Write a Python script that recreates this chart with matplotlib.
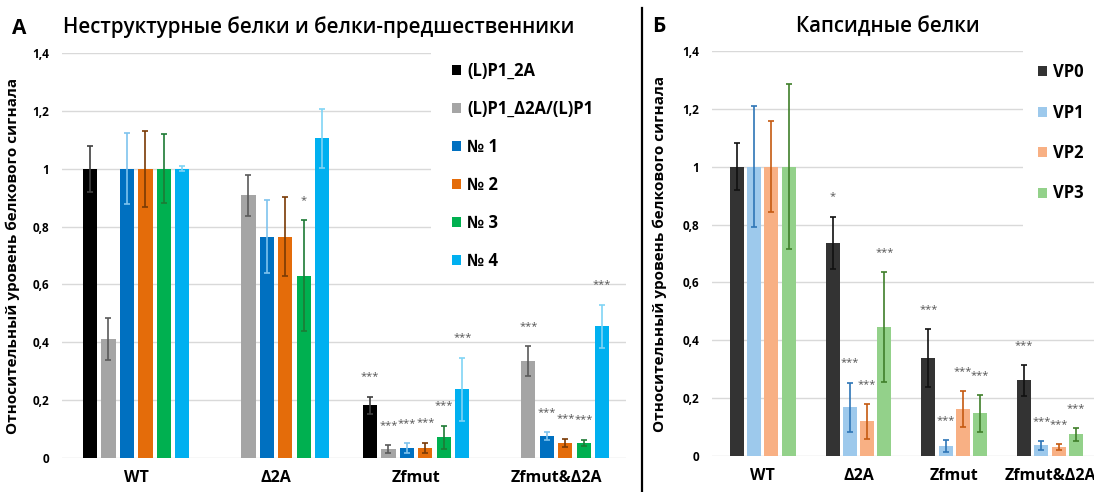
import matplotlib
matplotlib.use("Agg")
import matplotlib.pyplot as plt
from matplotlib.patches import Rectangle, Patch
from matplotlib.lines import Line2D
import numpy as np

plt.rcParams['font.family'] = ['Open Sans', 'DejaVu Sans']

categories = ["WT", "Δ2A", "Zfmut", "Zfmut&Δ2A"]

# Panel A
series_A = ["(L)P1_2A", "(L)P1_Δ2A/(L)P1", "№ 1", "№ 2", "№ 3", "№ 4"]
vals_A = [
    [1.00, 0.00, 0.182, np.nan],
    [0.411, 0.908, 0.031, 0.334],
    [1.00, 0.765, 0.035, 0.075],
    [1.00, 0.765, 0.035, 0.052],
    [1.00, 0.630, 0.072, 0.052],
    [1.00, 1.105, 0.238, 0.455],
]
errs_A = [
    [0.080, 0.0, 0.030, 0.0],
    [0.072, 0.072, 0.013, 0.052],
    [0.122, 0.127, 0.016, 0.014],
    [0.132, 0.136, 0.018, 0.015],
    [0.120, 0.192, 0.040, 0.011],
    [0.009, 0.102, 0.109, 0.075],
]
sig_A = [
    ["", "", "***", ""],
    ["", "", "***", "***"],
    ["", "", "***", "***"],
    ["", "", "***", "***"],
    ["", "*", "***", "***"],
    ["", "", "***", "***"],
]
colors_A = ["#000000", "#a5a5a5", "#0070c0", "#e46c0a", "#00b050", "#00b0f0"]
ecolors_A = ["#404040", "#5a5a5a", "#7fc3ee", "#7a3a05", "#1e7a35", "#80d4f5"]

# Panel B
series_B = ["VP0", "VP1", "VP2", "VP3"]
vals_B = [
    [1.00, 0.737, 0.339, 0.261],
    [1.00, 0.169, 0.034, 0.037],
    [1.00, 0.120, 0.163, 0.032],
    [1.00, 0.445, 0.147, 0.075],
]
errs_B = [
    [0.082, 0.090, 0.100, 0.052],
    [0.210, 0.085, 0.020, 0.015],
    [0.158, 0.060, 0.062, 0.010],
    [0.285, 0.190, 0.063, 0.022],
]
sig_B = [
    ["", "*", "***", "***"],
    ["", "***", "***", "***"],
    ["", "***", "***", "***"],
    ["", "***", "***", "***"],
]
colors_B = ["#333333", "#9dc9ec", "#f8b084", "#93d18a"]
ecolors_B = ["#111111", "#2e75b6", "#c55a11", "#3f7f2a"]

yticks = [0, 0.2, 0.4, 0.6, 0.8, 1.0, 1.2, 1.4]
ytick_labels = ["0", "0,2", "0,4", "0,6", "0,8", "1", "1,2", "1,4"]
ylabel = "Относительный уровень белкового сигнала"

W, H = 1094, 492
fig = plt.figure(figsize=(W / 100, H / 100), dpi=100)


def px_axes(l, r, b, t):
    return fig.add_axes([l / W, 1 - b / H, (r - l) / W, (b - t) / H])


def draw_panel(ax, vals, errs, sigs, colors, ecolors, slot, bw, xlim, mask_x0):
    x = np.arange(len(categories))
    n = len(vals)
    for i in range(n):
        off = (i - (n - 1) / 2) * slot
        v = np.array(vals[i], dtype=float)
        e = np.array(errs[i], dtype=float)
        ok = ~np.isnan(v) & (v > 0)
        ax.bar(x[ok] + off, v[ok], bw, color=colors[i], zorder=3)
        ax.errorbar(x[ok] + off, v[ok], yerr=e[ok], fmt='none', ecolor=ecolors[i],
                    elinewidth=1.2, capsize=2, capthick=1.2, zorder=4)
        for j in range(len(categories)):
            if ok[j] and sigs[i][j]:
                ax.text(x[j] + off, v[j] + e[j] + 0.068, sigs[i][j], ha='center',
                        va='center', fontsize=8, color='#555555', zorder=5)
    ax.set_ylim(0, 1.4)
    ax.set_xlim(*xlim)
    ax.set_yticks(yticks)
    ax.set_yticklabels(ytick_labels, fontsize=8.5, fontweight='bold')
    ax.set_xticks(x)
    ax.set_xticklabels(categories, fontsize=11.5, fontweight='bold')
    ax.tick_params(axis='both', length=0)
    ax.tick_params(axis='x', pad=9)
    ax.tick_params(axis='y', pad=9)
    ax.grid(axis='y', color='#d9d9d9', linewidth=1.0, zorder=0)
    ax.set_axisbelow(True)
    for s in ax.spines.values():
        s.set_visible(False)
    ax.add_patch(Rectangle((mask_x0, 0.5), 1.2, 0.55, transform=ax.transAxes,
                           facecolor='white', edgecolor='none', zorder=1, clip_on=False))


# Panel A axes
axA = px_axes(62, 626, 458, 53)
draw_panel(axA, vals_A, errs_A, sig_A, colors_A, ecolors_A, 0.132, 0.103,
           (-0.529, 3.5), (431 - 62) / (626 - 62))
axA.set_ylabel(ylabel, fontsize=11, fontweight='bold', labelpad=9)

handlesA = [Patch(facecolor=c) for c in colors_A]
legA = fig.legend(handlesA, series_A, loc='upper left', bbox_to_anchor=(437 / W, 1 - 47 / H),
                  frameon=False, prop={'weight': 'bold', 'size': 12},
                  handlelength=0.55, handleheight=0.55, handletextpad=0.35, labelspacing=1.2)

# Panel B axes
axB = px_axes(712, 1117, 456, 51)
draw_panel(axB, vals_B, errs_B, sig_B, colors_B, ecolors_B, 0.18, 0.146,
           (-0.53, 3.70), (1023 - 712) / (1117 - 712))
axB.set_ylabel(ylabel, fontsize=11, fontweight='bold', labelpad=11)

handlesB = [Patch(facecolor=c) for c in colors_B]
legB = fig.legend(handlesB, series_B, loc='upper left', bbox_to_anchor=(1023 / W, 1 - 48 / H),
                  frameon=False, prop={'weight': 'bold', 'size': 12},
                  handlelength=0.55, handleheight=0.55, handletextpad=0.35, labelspacing=1.35)

# Titles
fig.text(12 / W, 1 - 28 / H, "А", fontsize=15, fontweight='bold', va='center', ha='left')
fig.text(63 / W, 1 - 27 / H, "Неструктурные белки и белки-предшественники", fontsize=14.8,
         fontweight='semibold', va='center', ha='left')
fig.text(652 / W, 1 - 27 / H, "Б", fontsize=15, fontweight='bold', va='center', ha='left')
fig.text(888 / W, 1 - 27 / H, "Капсидные белки", fontsize=14.8, fontweight='semibold',
         va='center', ha='center')

# Separator line
fig.add_artist(Line2D([642 / W, 642 / W], [0, 1 - 8 / H], transform=fig.transFigure,
                      color='black', linewidth=1.6))

fig.savefig("out.png", dpi=100)
